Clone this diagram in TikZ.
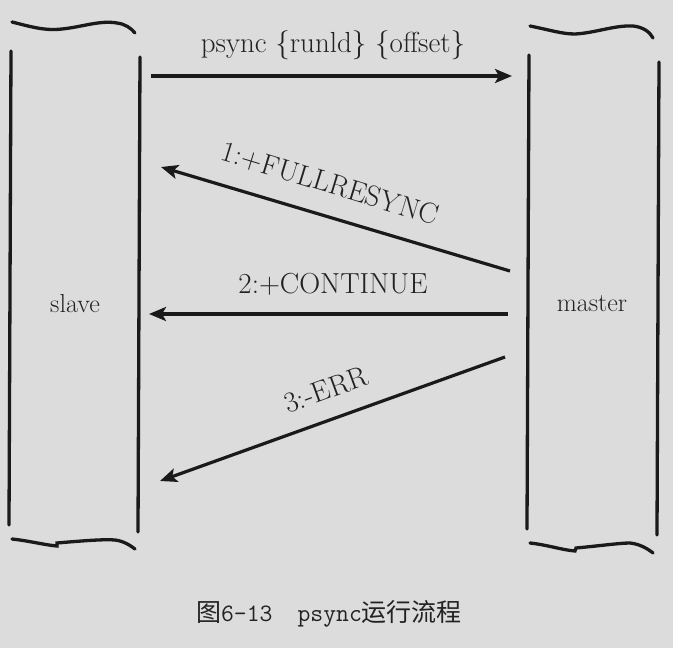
\documentclass[tikz,border=0pt]{standalone}
\usepackage{fontspec}
\newfontfamily\cjk{Noto Sans CJK SC}
\usetikzlibrary{arrows.meta}
\definecolor{bg}{RGB}{220,220,220}
\definecolor{ink}{RGB}{26,26,26}
\definecolor{txt}{RGB}{34,34,34}
\tikzset{
  hand/.style={line width=3.3pt, draw=ink, line cap=round},
  msg/.style={line width=3.2pt, draw=ink, -{Stealth[length=17pt,width=14pt,inset=4pt]}},
  lbl/.style={font=\fontsize{29}{32}\selectfont, text=txt, inner sep=0pt},
  role/.style={font=\fontsize{26}{29}\selectfont, text=txt, inner sep=0pt}
}
\begin{document}
\begin{tikzpicture}[x=1pt,y=-1pt]
\useasboundingbox[fill=bg] (0,0) rectangle (673,648);
% left box (slave)
\draw[hand] (12,22) .. controls (32,27) and (45,31) .. (62,29) .. controls (82,27) and (100,20) .. (117,23) .. controls (125,24) and (131,28) .. (135,33);
\draw[hand] (11,51) -- (9,525);
\draw[hand] (140,57) -- (138,532);
\draw[hand] (12,539) .. controls (30,541) and (45,545) .. (57,546) -- (57,543) .. controls (80,541) and (105,539) .. (115,540) .. controls (124,541) and (131,546) .. (135,549);
% right box (master)
\draw[hand] (530,26) .. controls (550,30) and (562,34) .. (575,34) .. controls (595,33) and (615,25) .. (633,26) .. controls (643,27) and (650,32) .. (653,38);
\draw[hand] (529,55) -- (527,529);
\draw[hand] (659,62) -- (657,535);
\draw[hand] (530,543) .. controls (548,545) and (562,550) .. (575,551) -- (576,548) .. controls (598,546) and (620,543) .. (630,543) .. controls (640,544) and (648,549) .. (653,553);
% role nodes
\node[role] (slave) at (75,304) {slave};
\node[role] (master) at (592,304) {master};
% connector end points
\coordinate (a1) at (151,76);  \coordinate (b1) at (512,76);
\coordinate (a2) at (510,271); \coordinate (b2) at (161,167);
\coordinate (a3) at (508,314); \coordinate (b3) at (149,314);
\coordinate (a4) at (505,357); \coordinate (b4) at (160,481);
\draw[msg] (a1) -- (b1);
\draw[msg] (a2) -- (b2);
\draw[msg] (a3) -- (b3);
\draw[msg] (a4) -- (b4);
% labels
\node[lbl] (l1) at (333,45) {psync \{runld\} \{offset\}};
\node[lbl, rotate=-17] (l2) at (330,184) {1:+FULLRESYNC};
\node[lbl] (l3) at (333,284) {2:+CONTINUE};
\node[lbl, rotate=20] (l4) at (326,390) {3:-ERR};
% caption
\node[inner sep=0pt, text=txt] (cap) at (329,614) {\cjk\fontsize{25}{28}\selectfont 图{\ttfamily\fontsize{25}{27}\selectfont 6-13}\hspace{1em}{\ttfamily\fontsize{25}{27}\selectfont psync}运行流程};
\end{tikzpicture}
\end{document}
